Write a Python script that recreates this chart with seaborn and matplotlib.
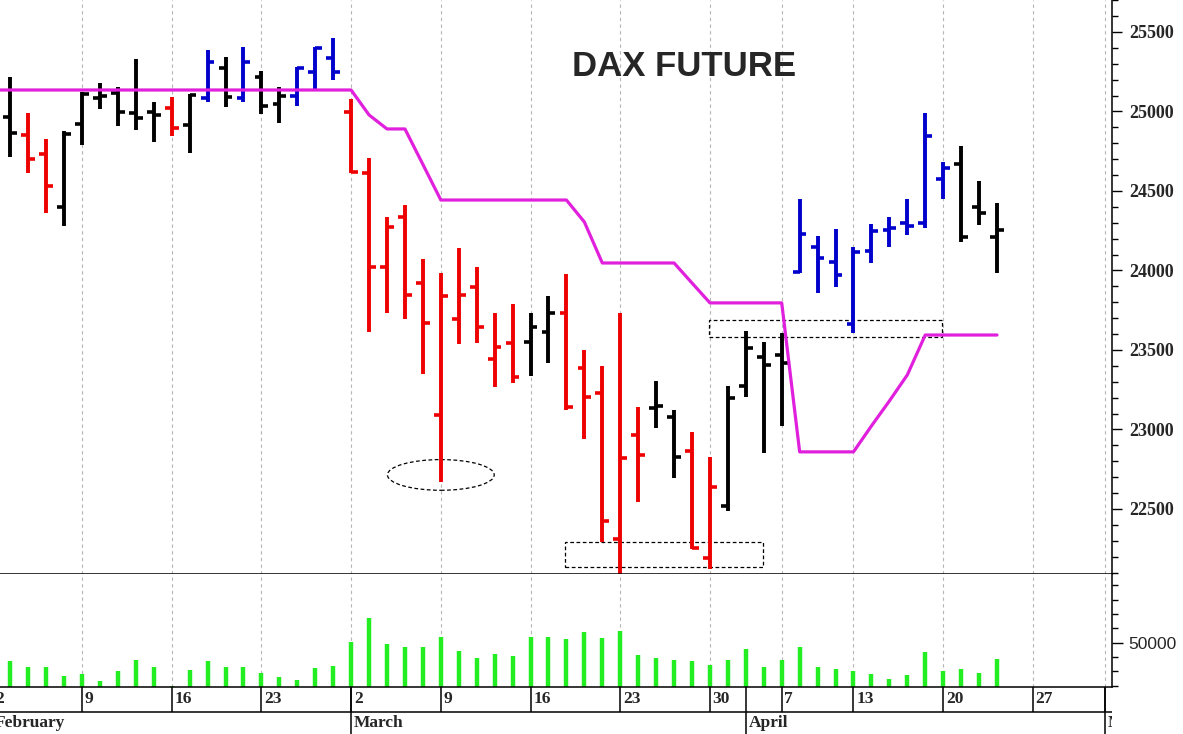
import numpy as np
import matplotlib
matplotlib.use("Agg")
import matplotlib.pyplot as plt
import seaborn as sns
from matplotlib.patches import Ellipse, Rectangle
from matplotlib.ticker import MultipleLocator, FixedLocator

# x = trading day index, 0 = Feb 2 (weekends / Easter holidays skipped)
opens = [24965, 24852, 24733, 24399, 24921, 25085, 25116, 24991, 24997, 25022,
         24915, 25085, 25274, 25085, 25217, 25047, 25097, 25248, 25336, 24997,
         24613, 24022, 24337, 23921, 23091, 23695, 23896, 23443, 23544, 23550,
         23613, 23733, 23387, 23230, 22312, 22966, 23135, 23079, 22865, 22192,
         22519, 23274, 23456, 23469, 23990, 24148, 24054, 23664, 24123, 24255,
         24299, 24299, 24575, 24670, 24399, 24211]
highs = [25217, 24991, 24827, 24877, 25120, 25179, 25154, 25330, 25060, 25091,
         25110, 25387, 25343, 25406, 25255, 25154, 25280, 25406, 25462, 25079,
         24708, 24337, 24412, 24072, 23984, 24142, 24022, 23733, 23789, 23733,
         23840, 23978, 23500, 23400, 23733, 23142, 23305, 23123, 22984, 22827,
         23274, 23620, 23550, 23607, 24450, 24217, 24261, 24148, 24292, 24337,
         24450, 24991, 24682, 24783, 24563, 24425]
lows = [24714, 24613, 24362, 24280, 24789, 25016, 24909, 24884, 24808, 24846,
        24739, 25060, 25028, 25060, 24984, 24928, 25035, 25142, 25198, 24613,
        23613, 23733, 23695, 23349, 22670, 23538, 23544, 23267, 23292, 23337,
        23418, 23123, 22940, 22293, 22050, 22544, 23010, 22695, 22249, 22123,
        22488, 23205, 22852, 23022, 23985, 23859, 23896, 23607, 24047, 24148,
        24223, 24267, 24450, 24179, 24286, 23984]
closes = [24865, 24701, 24531, 24859, 25110, 25095, 24997, 24959, 24978, 24896,
          25104, 25311, 25091, 25311, 25035, 25097, 25275, 25399, 25248, 24620,
          24022, 24274, 23846, 23670, 23840, 23846, 23645, 23519, 23330, 23645,
          23733, 23142, 23205, 22425, 22821, 22840, 23150, 22827, 22255, 22638,
          23198, 23513, 23406, 23418, 24230, 24079, 23972, 24116, 24249, 24267,
          24280, 24846, 24645, 24211, 24362, 24255]
bar_kind = list("krrkkkkkkrkbkbkkbbbrrrrrrrrrrkkrrrrrkkrrkkkkbbbbbbbbbkkk")

volume = [37400, 33000, 33000, 26900, 27900, 23200, 30200, 37900, 33000, 19700,
          31100, 37200, 33000, 33000, 29000, 26000, 23900, 32100, 34000, 50300,
          67000, 49100, 46800, 47000, 54200, 44400, 39100, 42100, 40900, 53800,
          53800, 52400, 57300, 53100, 58200, 41200, 39100, 38100, 37200, 34200,
          38100, 45400, 33000, 37900, 47000, 32800, 31400, 30200, 27900, 24400,
          27200, 43500, 30200, 31400, 29000, 38400]

# stop line, index 0..56
stop_line = [25135] * 21 + [24978, 24890, 24890, 24667] + [24443] * 8 + [24305] + \
            [24047] * 5 + [23921] + [23796] * 5 + [22859] * 4 + [23022, 23179, 23343] + [23594] * 5

day_ticks = [0, 5, 10, 15, 20, 25, 30, 35, 40, 44, 48, 53, 58, 62]
day_labels = ["2", "9", "16", "23", "2", "9", "16", "23", "30", "7", "13", "20", "27", ""]
month_ticks = [0, 20, 42, 62]
month_labels = ["February", "March", "April", "May"]

colors = {"k": "#000000", "r": "#ee0000", "b": "#0000cc"}

sns.set_style("white")
plt.rcParams['font.family'] = ['Liberation Serif', 'DejaVu Serif']

fig = plt.figure(figsize=(11.83, 7.34), dpi=100)
ax = fig.add_axes([0, 0.218, 0.94, 0.782])
axv = fig.add_axes([0, 0.064, 0.94, 0.154])
axd = fig.add_axes([0, 0, 0.94, 0.064])

xlim = (0.43, 62.41)
x = np.arange(1, len(opens) + 1)
o, h, l, c = map(np.array, (opens, highs, lows, closes))
kind = np.array(bar_kind)

# price bars
for k, col in colors.items():
    m = kind == k
    ax.vlines(x[m], l[m], h[m], color=col, lw=2.8)
    ax.hlines(o[m], x[m] - 0.38, x[m], color=col, lw=2.6)
    ax.hlines(c[m], x[m], x[m] + 0.38, color=col, lw=2.6)

sns.lineplot(x=np.arange(len(stop_line)), y=stop_line, color="#e020dc", lw=2.3, ax=ax)

# annotations
ax.add_patch(Ellipse((25, 22714), 5.95, 193, fill=False, ec="black", lw=0.9, ls=(0, (3, 2))))
ax.add_patch(Rectangle((31.92, 22136), 11.02, 159, fill=False, ec="black", lw=0.9, ls=(0, (3, 2))))
ax.add_patch(Rectangle((39.97, 23580), 12.95, 109, fill=False, ec="black", lw=0.9, ls=(0, (3, 2))))

ax.text(0.615, 0.885, "DAX FUTURE", transform=ax.transAxes, ha="center", va="center",
        fontsize=25, fontweight="bold", family=["Liberation Sans", "DejaVu Sans"])

ax.set_ylim(22091, 25701)
ax.yaxis.tick_right()
ax.set_yticks([22500, 23000, 23500, 24000, 24500, 25000, 25500])
ax.set_yticklabels(["22500", "23000", "23500", "24000", "24500", "25000", "25500"],
                   fontsize=13, fontweight="bold")
ax.yaxis.set_minor_locator(MultipleLocator(100))
ax.tick_params(axis="y", which="major", right=True, length=7.5, width=1, pad=5, color="black")
ax.tick_params(axis="y", which="minor", right=True, length=4, width=1, color="black")

# volume
axv.vlines(x, 0, volume, color="#22ee22", lw=3.2)
axv.set_ylim(19000, 98000)
axv.yaxis.tick_right()
axv.set_yticks([50000])
axv.set_yticklabels(["50000"], fontsize=12.5, family=["Liberation Sans", "DejaVu Sans"])
axv.yaxis.set_minor_locator(FixedLocator([20000, 30000, 40000, 60000, 70000, 80000, 90000]))
axv.tick_params(axis="y", which="major", right=True, length=8, width=1, pad=4, color="black")
axv.tick_params(axis="y", which="minor", right=True, length=4, width=1, color="black")

for a in (ax, axv):
    a.set_xticks(day_ticks)
    a.set_xlim(*xlim)  # after set_xticks, which would widen the view
    a.tick_params(axis="x", bottom=False, labelbottom=False, length=0)
    a.grid(axis="x", ls=(0, (3, 3)), color="#b5b5b5", lw=0.8)
    a.grid(axis="y", visible=False)
    for s in ("left", "top"):
        a.spines[s].set_visible(False)
    for s in ("right", "bottom"):
        a.spines[s].set_color("black")
        a.spines[s].set_linewidth(1.1)

# date rows
axd.set_xlim(*xlim)
axd.set_ylim(0, 1)
axd.axis("off")
axd.axhline(0.468, color="black", lw=1.1)
axd.vlines(day_ticks, 0.468, 1, color="black", lw=1.1)
axd.vlines(month_ticks, 0, 1, color="black", lw=1.1)
for t, lab in zip(day_ticks, day_labels):
    axd.text(t + 0.15, 0.735, lab, ha="left", va="center", fontsize=12.5,
             fontweight="bold", clip_on=True)
for t, lab in zip(month_ticks, month_labels):
    axd.text(t + 0.15, 0.225, lab, ha="left", va="center", fontsize=12.5,
             fontweight="bold", clip_on=True)

fig.savefig("out.png", dpi=100)
